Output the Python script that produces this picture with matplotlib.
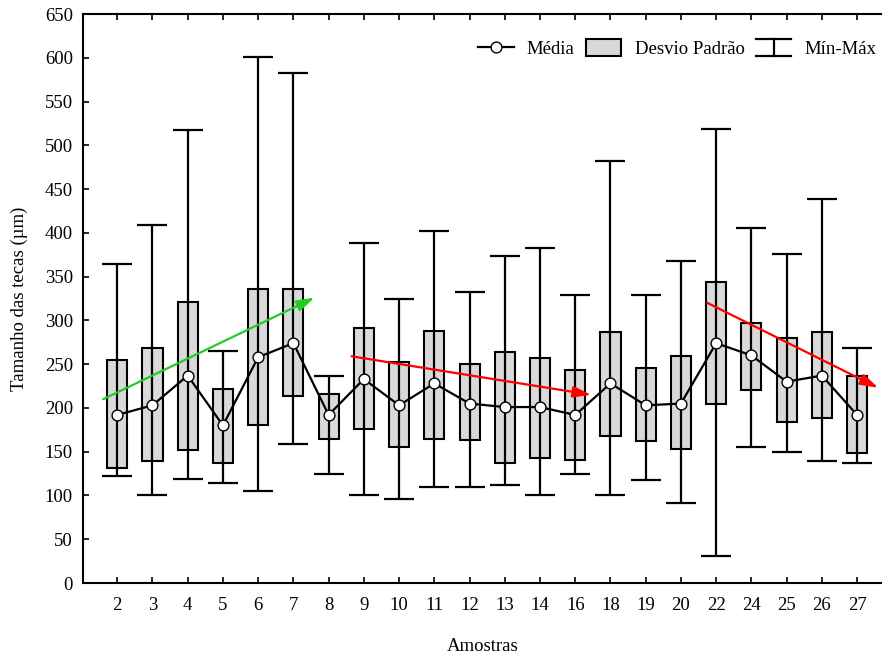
# -*- coding: utf-8 -*-
"""
Tamanho das tecas por amostra: media, desvio padrao e min-max
"""

import numpy as np
import matplotlib.pyplot as plt
from matplotlib.lines import Line2D
from matplotlib.patches import Patch
from matplotlib.legend_handler import HandlerBase


# ----------------------------------------------------------------------
# dados

amostras = ['2', '3', '4', '5', '6', '7', '8', '9', '10', '11', '12',
            '13', '14', '16', '18', '19', '20', '22', '24', '25', '26', '27']

media = [192, 203, 237, 180, 258, 274, 192, 233, 203, 228, 205,
         201, 201, 192, 228, 203, 205, 274, 260, 230, 237, 192]

dp_sup = [255, 268, 321, 222, 336, 336, 216, 291, 252, 288, 250,
          264, 257, 243, 287, 246, 259, 344, 297, 280, 287, 236]
dp_inf = [131, 139, 152, 137, 180, 214, 165, 176, 155, 165, 163,
          137, 143, 141, 168, 162, 153, 205, 221, 184, 188, 148]

v_max = [364, 409, 517, 265, 601, 583, 237, 388, 325, 402, 332,
         374, 383, 329, 482, 329, 368, 519, 405, 376, 439, 268]
v_min = [122, 101, 119, 114, 105, 159, 124, 101, 96, 110, 110,
         112, 100, 124, 101, 118, 91, 31, 155, 150, 139, 137]

# setas de tendencia: (x inicio, y inicio, x fim, y fim) em posicao de amostra
setas = [(-0.4, 210, 5.6, 326, '#22cc22'),
         (6.65, 259, 13.45, 215, 'red'),
         (16.75, 320, 21.6, 223, 'red')]


# ----------------------------------------------------------------------


class HandlerMinMax(HandlerBase):
    """Desenha o simbolo de min-max na legenda"""
    def create_artists(self, legend, orig_handle, xdescent, ydescent,
                       width, height, fontsize, trans):
        xc = width/2 - xdescent
        y0, y1 = -ydescent, height - ydescent
        kw = dict(color='black', lw=1.6, transform=trans)
        return [Line2D([xc, xc], [y0, y1], **kw),
                Line2D([-xdescent, width - xdescent], [y1, y1], **kw),
                Line2D([-xdescent, width - xdescent], [y0, y0], **kw)]


plt.rcParams['font.family'] = ['Liberation Serif', 'DejaVu Serif']
plt.rcParams['font.size'] = 13.5

x = np.arange(len(amostras))
media = np.array(media)
dp_sup, dp_inf = np.array(dp_sup), np.array(dp_inf)
v_max, v_min = np.array(v_max), np.array(v_min)

fig = plt.figure(figsize=(8.82, 6.55), dpi=100)
ax = fig.add_axes([0.0938, 0.1099, 0.9063, 0.8687])

# caixas do desvio padrao
ax.bar(x, dp_sup - dp_inf, bottom=dp_inf, width=0.57, color='#d9d9d9',
       edgecolor='black', linewidth=1.5, zorder=2)

# min-max
ax.errorbar(x, media, yerr=[media - v_min, v_max - media], fmt='none',
            ecolor='black', elinewidth=1.6, capsize=10.5, capthick=1.6,
            zorder=3)

# media
ax.plot(x, media, color='black', lw=1.6, marker='o', ms=7.8,
        markerfacecolor='white', markeredgecolor='black', mew=1.0, zorder=4)

for x0, y0, x1, y1, cor in setas:
    ax.annotate('', xy=(x1, y1), xytext=(x0, y0),
                arrowprops=dict(arrowstyle='-|>,head_length=0.8,head_width=0.25',
                                color=cor, lw=1.6, shrinkA=0, shrinkB=0),
                zorder=5)

ax.set_xlim(-0.98, 21.71)
ax.set_ylim(0, 650)
ax.set_xticks(x)
ax.set_xticklabels(amostras)
ax.set_yticks(np.arange(0, 651, 50))

ax.spines['right'].set_visible(False)
for s in ['left', 'bottom', 'top']:
    ax.spines[s].set_linewidth(1.5)
ax.tick_params(axis='x', direction='in', top=True, length=4, width=1.2, pad=10)
ax.tick_params(axis='y', direction='in', length=4, width=1.2, pad=7)

ax.set_xlabel('Amostras', labelpad=17)
ax.set_ylabel('Tamanho das tecas (µm)', labelpad=12)

h_media = Line2D([], [], color='black', lw=1.6, marker='o', ms=7.8,
                 markerfacecolor='white', markeredgecolor='black')
h_dp = Patch(facecolor='#d9d9d9', edgecolor='black', linewidth=1.5)
h_mm = Line2D([], [], color='black')
labels = ['Média', 'Desvio Padrão', 'Mín-Máx']
ax.legend([h_media, h_dp, h_mm], labels, handler_map={h_mm: HandlerMinMax()},
          loc='upper right', ncol=3, frameon=False,
          bbox_to_anchor=(0.993, 0.956), borderaxespad=0, borderpad=0,
          handlelength=1.9, handleheight=1.05, handletextpad=0.7,
          columnspacing=0.6)

fig.savefig('out.png', dpi=100)
